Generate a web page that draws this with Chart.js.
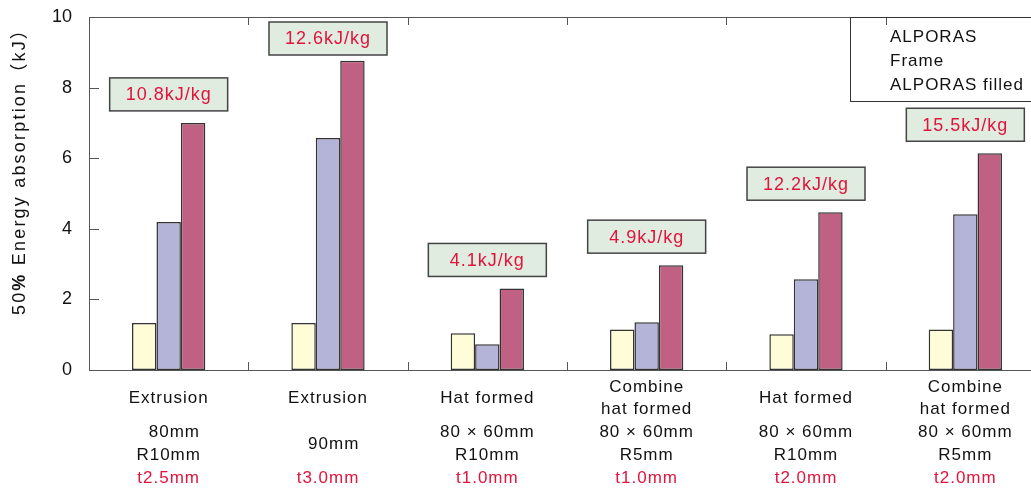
<!DOCTYPE html>
<html>
<head>
<meta charset="utf-8">
<script src="https://cdn.jsdelivr.net/npm/chart.js@4"></script>
<style>
  html, body { margin: 0; padding: 0; background: #fff; overflow: hidden; }
  #wrap { width: 1060px; height: 488px; }
</style>
</head>
<body>
<div id="wrap"><canvas id="chart" width="1060" height="488"></canvas></div>
<script>
// values
const seriesNames = ['ALPORAS', 'Frame', 'ALPORAS filled'];
const alporas = [1.33, 1.33, 1.04, 1.15, 1.01, 1.15];
const frame = [4.19, 6.57, 0.73, 1.35, 2.57, 4.41];
const filled = [7.0, 8.76, 2.31, 2.97, 4.47, 6.14];
const specificAbs = ['10.8kJ/kg', '12.6kJ/kg', '4.1kJ/kg', '4.9kJ/kg', '12.2kJ/kg', '15.5kJ/kg'];
const processNames = [['Extrusion'], ['Extrusion'], ['Hat formed'], ['Combine', 'hat formed'], ['Hat formed'], ['Combine', 'hat formed']];
const sizes = [['  80mm', 'R10mm'], ['  90mm'], ['80 × 60mm', 'R10mm'], ['80 × 60mm', 'R5mm'], ['80 × 60mm', 'R10mm'], ['80 × 60mm', 'R5mm']];
const thickness = ['t2.5mm', 't3.0mm', 't1.0mm', 't1.0mm', 't2.0mm', 't2.0mm'];
const categories = ['1', '2', '3', '4', '5', '6'];

const FONT = '"Liberation Sans", Arial, "Noto Sans CJK JP", sans-serif';
const RED = '#e0143c';
const LINE = 22.75;

function spaced(ctx, px) {
  if ('letterSpacing' in ctx) ctx.letterSpacing = px + 'px';
}

const decor = {
  id: 'decor',
  beforeDatasetsDraw(chart) {
    const { ctx, chartArea: a, scales: { x, y } } = chart;
    ctx.save();
    ctx.strokeStyle = '#555';
    ctx.lineWidth = 1;
    ctx.strokeRect(a.left + 0.5, a.top + 0.5, a.right - a.left, a.bottom - a.top);
    // inward ticks
    ctx.beginPath();
    y.ticks.forEach(t => {
      const py = Math.round(y.getPixelForValue(t.value)) + 0.5;
      ctx.moveTo(a.left, py);
      ctx.lineTo(a.left + 10, py);
    });
    for (let i = 0; i < categories.length - 1; i++) {
      const px = Math.round((x.getPixelForValue(i) + x.getPixelForValue(i + 1)) / 2) + 0.5;
      ctx.moveTo(px, a.bottom);
      ctx.lineTo(px, a.bottom - 8);
      ctx.moveTo(px, a.top);
      ctx.lineTo(px, a.top + 8);
    }
    ctx.stroke();
    ctx.restore();
  },
  afterDraw(chart) {
    const { ctx, chartArea: a, scales: { x } } = chart;
    ctx.save();
    ctx.textBaseline = 'middle';
    spaced(ctx, 1);

    // specific absorption boxes above the filled bars
    const meta = chart.getDatasetMeta(2);
    ctx.font = '18px ' + FONT;
    meta.data.forEach((bar, i) => {
      const w = 118, h = 33;
      const cx = x.getPixelForValue(i);
      let top = bar.y - 12 - h;
      if (top < a.top + 5) top = a.top + 5;
      ctx.fillStyle = '#e0ece0';
      ctx.fillRect(cx - w / 2, top, w, h);
      ctx.strokeStyle = '#444';
      ctx.lineWidth = 1.5;
      ctx.strokeRect(cx - w / 2, top, w, h);
      ctx.fillStyle = RED;
      ctx.textAlign = 'center';
      ctx.fillText(specificAbs[i], cx, top + h / 2 + 1);
    });

    // category labels
    ctx.font = '17px ' + FONT;
    ctx.textAlign = 'center';
    categories.forEach((c, i) => {
      const cx = x.getPixelForValue(i);
      const base = a.bottom + 17;
      ctx.fillStyle = '#111';
      const p = processNames[i];
      const pTop = base + 11.4 - (p.length - 1) * LINE / 2;
      p.forEach((s, k) => ctx.fillText(s, cx, pTop + k * LINE));
      const s = sizes[i];
      const sTop = base + 3 * LINE - (s.length - 1) * LINE / 2 - LINE / 2;
      s.forEach((t, k) => ctx.fillText(t, cx, sTop + k * LINE));
      ctx.fillStyle = RED;
      ctx.fillText(thickness[i], cx, base + 4 * LINE);
    });

    // legend box (swatches not visible in the source)
    ctx.strokeStyle = '#333';
    ctx.lineWidth = 1;
    ctx.strokeRect(850.5, a.top + 0.5, 300, 84);
    ctx.fillStyle = '#111';
    ctx.textAlign = 'left';
    seriesNames.forEach((n, k) => ctx.fillText(n, 890, 37 + k * 24));

    // y axis title with bold %
    const parts = [['50', ''], ['%', 'bold '], [' Energy absorption（kJ）', '']];
    ctx.translate(20, 167);
    ctx.rotate(-Math.PI / 2);
    spaced(ctx, 2.2);
    let total = 0;
    parts.forEach(pt => { ctx.font = pt[1] + '18px ' + FONT; total += ctx.measureText(pt[0]).width; });
    let px = -total / 2;
    parts.forEach(pt => {
      ctx.font = pt[1] + '18px ' + FONT;
      ctx.fillText(pt[0], px, 0);
      px += ctx.measureText(pt[0]).width;
    });
    ctx.restore();
  }
};

new Chart(document.getElementById('chart'), {
  type: 'bar',
  data: {
    labels: categories,
    datasets: [
      { label: seriesNames[0], data: alporas, backgroundColor: '#fffcd8' },
      { label: seriesNames[1], data: frame, backgroundColor: '#b4b4d8' },
      { label: seriesNames[2], data: filled, backgroundColor: '#c06082' }
    ]
  },
  options: {
    responsive: false,
    animation: false,
    layout: { padding: { left: 0, top: 17, right: 15, bottom: 0 } },
    datasets: {
      bar: {
        categoryPercentage: 0.46,
        barPercentage: 1,
        borderColor: '#333',
        borderWidth: 1.5,
        borderSkipped: false
      }
    },
    plugins: { legend: { display: false }, tooltip: { enabled: false } },
    scales: {
      x: {
        ticks: { display: false },
        grid: { display: false, drawTicks: false },
        border: { display: false },
        afterFit: s => { s.height = 118; }
      },
      y: {
        min: 0,
        max: 10,
        ticks: { stepSize: 2, color: '#111', padding: 17, font: { family: FONT, size: 18 } },
        grid: { display: false, drawTicks: false },
        border: { display: false },
        afterFit: s => { s.width = 89; s.paddingTop = 0; s.paddingBottom = 0; }
      }
    }
  },
  plugins: [decor]
});
</script>
</body>
</html>
